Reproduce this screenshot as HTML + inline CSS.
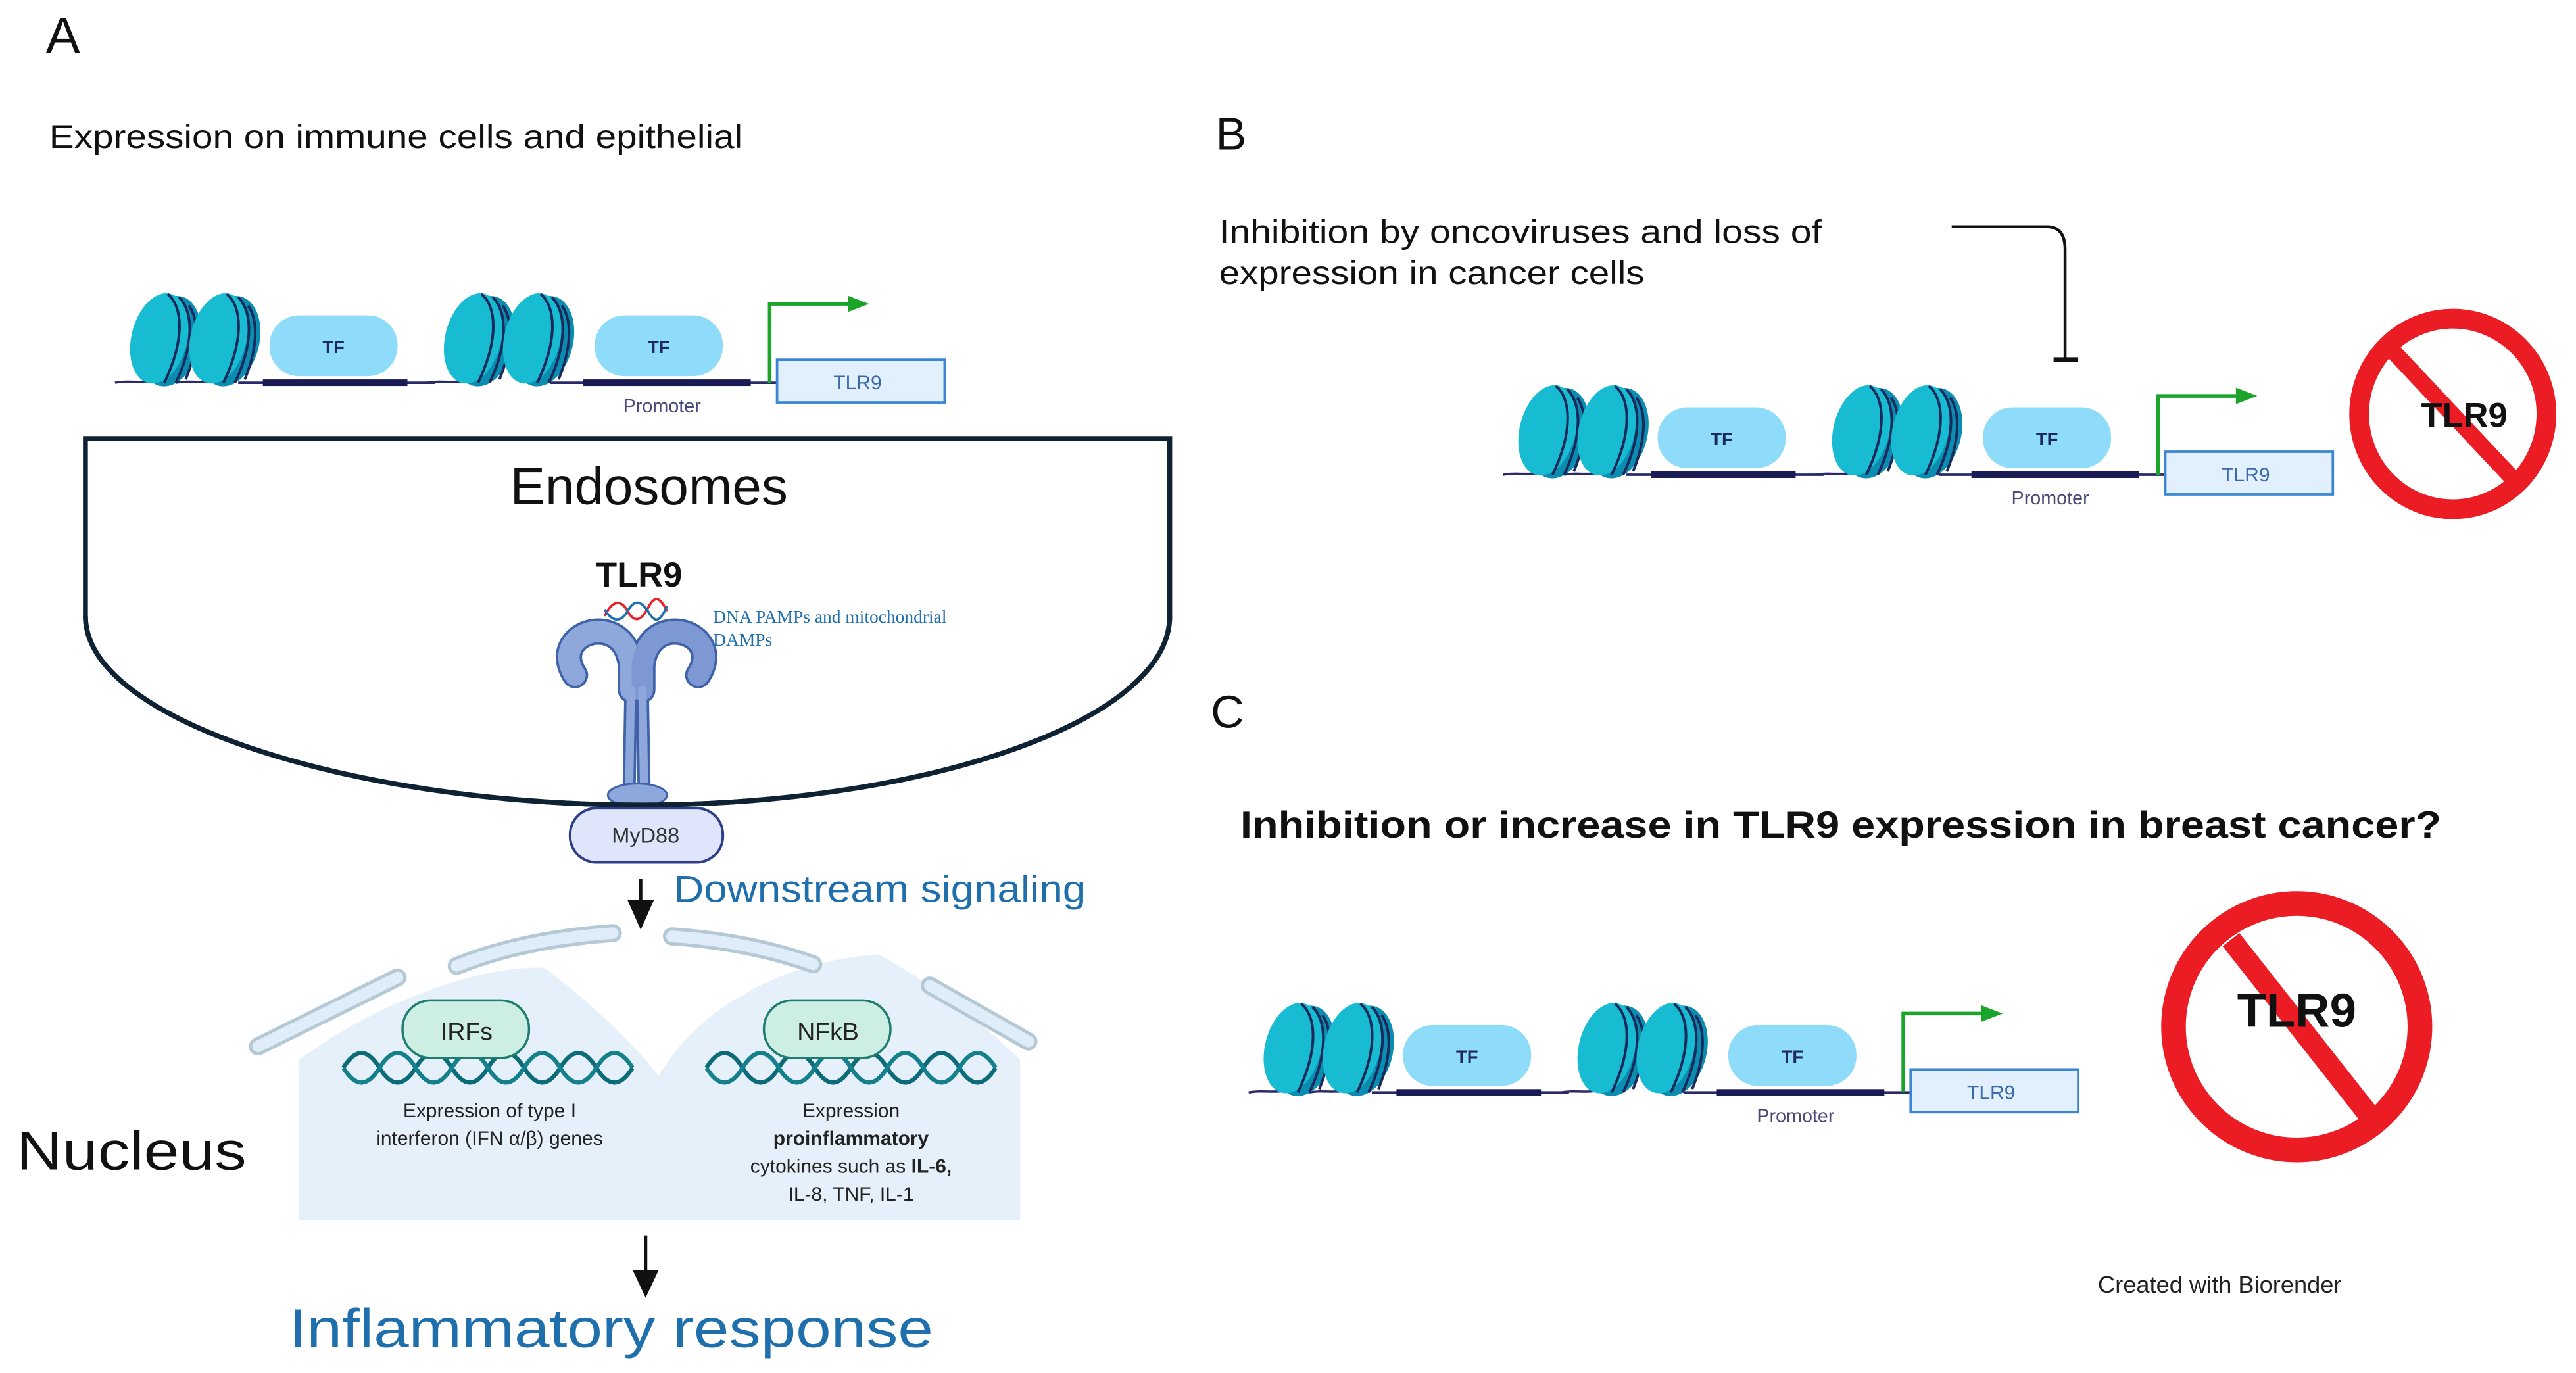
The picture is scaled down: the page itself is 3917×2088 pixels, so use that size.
<!DOCTYPE html>
<html><head><meta charset="utf-8"><style>
html,body{margin:0;padding:0;background:#fff;}
svg{display:block;}
text{font-family:"Liberation Sans",sans-serif;}
</style></head><body>
<svg width="3917" height="2088" viewBox="0 0 1568 835.8" preserveAspectRatio="none" xmlns="http://www.w3.org/2000/svg">
<defs>
<g id="nuc">
  <ellipse cx="7" cy="0" rx="18" ry="28" transform="rotate(14)" fill="#0a8db0"/>
  <ellipse cx="0" cy="0" rx="17" ry="28" transform="rotate(14)" fill="#17bcd2"/>
  <path d="M5 -27 C14 -20 16 0 3 27 M12 -25 C21 -16 21 4 10 27 M18 -20 C25 -10 23 8 16 25" stroke="#1b2a5a" stroke-width="1.6" fill="none"/>
</g>
<g id="gene">
  <path d="M-5 0 C5 -2 15 2 25 -4 M32 0 C42 -2 52 2 62 -4" stroke="#2a2a6a" stroke-width="1.4" fill="none"/>
  <use href="#nuc" x="22" y="-27"/>
  <use href="#nuc" x="58" y="-27"/>
  <line x1="70" y1="0" x2="190" y2="0" stroke="#2a2a6a" stroke-width="1.5"/>
  <rect x="85" y="-2" width="88" height="4" fill="#1a1a55"/>
  <rect x="89" y="-41" width="78" height="37" rx="18" fill="#8fdcfa"/>
  <text x="128" y="-18" font-size="11" font-weight="bold" fill="#1d2a5a" text-anchor="middle">TF</text>
  <path d="M185 0 C195 -2 205 2 215 -4" stroke="#2a2a6a" stroke-width="1.4" fill="none"/>
  <use href="#nuc" x="213" y="-27"/>
  <use href="#nuc" x="249" y="-27"/>
  <line x1="260" y1="0" x2="398" y2="0" stroke="#2a2a6a" stroke-width="1.5"/>
  <rect x="280" y="-2" width="102" height="4" fill="#1a1a55"/>
  <rect x="287" y="-41" width="78" height="37" rx="18" fill="#8fdcfa"/>
  <text x="326" y="-18" font-size="11" font-weight="bold" fill="#1d2a5a" text-anchor="middle">TF</text>
  <path d="M393.5 0 V-48 H443" stroke="#1aa52a" stroke-width="2.2" fill="none"/>
  <path d="M441 -53 L454 -48 L441 -43 Z" fill="#1aa52a"/>
  <rect x="398" y="-14" width="102" height="26" fill="#e2f0fd" stroke="#3a86d0" stroke-width="1.5"/>
  <text x="447" y="4" font-size="12" fill="#3a6aa8" text-anchor="middle">TLR9</text>
  <text x="328" y="18" font-size="11.5" fill="#4a4a78" text-anchor="middle">Promoter</text>
</g>
</defs>

<!-- Panel A -->
<text x="28" y="32" font-size="31" fill="#111">A</text>
<text x="30" y="90" font-size="20" fill="#111" textLength="422" lengthAdjust="spacingAndGlyphs">Expression on immune cells and epithelial</text>
<use href="#gene" x="75" y="233"/>

<!-- Endosome -->
<path d="M52 267 H712 V375 C712 440 560 490 390 490 C220 490 52 440 52 375 Z" fill="#fff" stroke="#0f2233" stroke-width="3"/>
<text x="395" y="307" font-size="32" fill="#111" text-anchor="middle">Endosomes</text>
<text x="389" y="357" font-size="21" font-weight="bold" fill="#111" text-anchor="middle">TLR9</text>
<path d="M368 375 C373 365 378 365 382 372 C386 379 390 379 395 369 C399 362 402 364 406 372" stroke="#e8222a" stroke-width="1.5" fill="none"/>
<path d="M368 371 C373 379 378 379 382 372 C386 365 390 365 395 373 C399 380 402 378 406 369" stroke="#1e6fb0" stroke-width="1.5" fill="none"/>
<text x="434" y="379" font-size="11" fill="#1f6fad" style="font-family:'Liberation Serif',serif">DNA PAMPs and mitochondrial</text>
<text x="434" y="393" font-size="11" fill="#1f6fad" style="font-family:'Liberation Serif',serif">DAMPs</text>
<!-- receptor -->
<g stroke-linecap="round" fill="none">
  <path d="M350 411 C333 385 380 370 384 405 L384 420" stroke="#3f62a8" stroke-width="16"/>
  <path d="M425 411 C442 385 395 370 391 405 L391 420" stroke="#3f62a8" stroke-width="16"/>
  <path d="M384 420 L383 478 M391 420 L392 478" stroke="#3f62a8" stroke-width="8"/>
  <path d="M350 411 C333 385 380 370 384 405 L384 420" stroke="#8fa8dc" stroke-width="13"/>
  <path d="M425 411 C442 385 395 370 391 405 L391 420" stroke="#7e98d3" stroke-width="13"/>
  <path d="M384 420 L383 478 M391 420 L392 478" stroke="#8fa8dc" stroke-width="5"/>
</g>
<ellipse cx="388" cy="484" rx="18" ry="7" fill="#8fa8dc" stroke="#3f62a8" stroke-width="1.2"/>
<path d="M52 375 C52 440 220 490 390 490 C560 490 712 440 712 375" fill="none" stroke="#0f2233" stroke-width="3"/>
<rect x="347" y="492" width="93" height="33" rx="16" fill="#dfe6fb" stroke="#2d3f8a" stroke-width="1.6"/>
<text x="393" y="513" font-size="13" fill="#333" text-anchor="middle">MyD88</text>

<line x1="390" y1="535" x2="390" y2="552" stroke="#111" stroke-width="2"/>
<path d="M382 548 L398 548 L390 566 Z" fill="#111"/>
<text x="410" y="549" font-size="23" fill="#1f6fad" textLength="251" lengthAdjust="spacingAndGlyphs">Downstream signaling</text>

<!-- Nucleus -->
<path d="M182 743 V645 C230 610 290 588 331 589 C360 610 390 640 401 655 C420 620 470 585 535 581 C570 600 600 625 621 645 V743 Z" fill="#e6f0fa"/>
<g stroke-linecap="round" fill="none">
  <path d="M157 637 L242 595" stroke="#b4c8d6" stroke-width="11"/>
  <path d="M157 637 L242 595" stroke="#deedf8" stroke-width="7"/>
  <path d="M278 588 C310 575 345 570 373 568" stroke="#b4c8d6" stroke-width="11"/>
  <path d="M278 588 C310 575 345 570 373 568" stroke="#deedf8" stroke-width="7"/>
  <path d="M409 570 C440 572 470 578 495 587" stroke="#b4c8d6" stroke-width="11"/>
  <path d="M409 570 C440 572 470 578 495 587" stroke="#deedf8" stroke-width="7"/>
  <path d="M566 600 L626 634" stroke="#b4c8d6" stroke-width="11"/>
  <path d="M566 600 L626 634" stroke="#deedf8" stroke-width="7"/>
</g>
<g fill="none" stroke-width="2.6">
  <path d="M209 650 q11 -18 22 0 t22 0 t22 0 t22 0 t22 0 t22 0 t22 0 t22 0" stroke="#0c6b78"/>
  <path d="M209 650 q11 18 22 0 t22 0 t22 0 t22 0 t22 0 t22 0 t22 0 t22 0" stroke="#14808c"/>
  <path d="M430 650 q11 -18 22 0 t22 0 t22 0 t22 0 t22 0 t22 0 t22 0 t22 0" stroke="#0c6b78"/>
  <path d="M430 650 q11 18 22 0 t22 0 t22 0 t22 0 t22 0 t22 0 t22 0 t22 0" stroke="#14808c"/>
</g>
<rect x="245" y="609" width="77" height="35" rx="17" fill="#cdeee3" stroke="#1f7d70" stroke-width="1.4"/>
<text x="284" y="633" font-size="15" fill="#222" text-anchor="middle">IRFs</text>
<rect x="465" y="609" width="77" height="35" rx="17" fill="#cdeee3" stroke="#1f7d70" stroke-width="1.4"/>
<text x="504" y="633" font-size="15" fill="#222" text-anchor="middle">NFkB</text>
<g font-size="12" fill="#222" text-anchor="middle">
  <text x="298" y="680">Expression of type I</text>
  <text x="298" y="697">interferon (IFN α/β) genes</text>
  <text x="518" y="680">Expression</text>
  <text x="518" y="697" font-weight="bold">proinflammatory</text>
  <text x="518" y="714">cytokines such as <tspan font-weight="bold">IL-6,</tspan></text>
  <text x="518" y="731">IL-8, TNF, IL-1</text>
</g>
<text x="10" y="712" font-size="33" fill="#111" textLength="140" lengthAdjust="spacingAndGlyphs">Nucleus</text>

<line x1="393" y1="752" x2="393" y2="776" stroke="#111" stroke-width="2"/>
<path d="M385 773 L401 773 L393 790 Z" fill="#111"/>
<text x="372" y="820" font-size="33" fill="#1f6fad" text-anchor="middle" textLength="392" lengthAdjust="spacingAndGlyphs">Inflammatory response</text>

<!-- Panel B -->
<text x="740" y="91" font-size="28" fill="#111">B</text>
<text x="742" y="148" font-size="20" fill="#111" textLength="367" lengthAdjust="spacingAndGlyphs">Inhibition by oncoviruses and loss of</text>
<text x="742" y="173" font-size="20" fill="#111" textLength="259" lengthAdjust="spacingAndGlyphs">expression in cancer cells</text>
<path d="M1188 138 H1246 Q1257 138 1257 152 V219" stroke="#111" stroke-width="1.8" fill="none"/>
<line x1="1250" y1="219" x2="1265" y2="219" stroke="#111" stroke-width="3"/>
<use href="#gene" x="920" y="289"/>
<ellipse cx="1493" cy="252" rx="57" ry="58" fill="none" stroke="#ec1c24" stroke-width="12"/>
<line x1="1455" y1="212" x2="1532" y2="294" stroke="#ec1c24" stroke-width="10"/>
<text x="1500" y="260" font-size="21" font-weight="bold" fill="#111" text-anchor="middle">TLR9</text>

<!-- Panel C -->
<text x="737" y="443" font-size="28" fill="#111">C</text>
<text x="755" y="510" font-size="23" font-weight="bold" fill="#111" textLength="731" lengthAdjust="spacingAndGlyphs">Inhibition or increase in TLR9 expression in breast cancer?</text>
<use href="#gene" x="765" y="665"/>
<circle cx="1398" cy="625" r="75" fill="none" stroke="#ec1c24" stroke-width="15"/>
<line x1="1358" y1="572" x2="1443" y2="680" stroke="#ec1c24" stroke-width="13"/>
<text x="1398" y="625" font-size="29" font-weight="bold" fill="#111" text-anchor="middle">TLR9</text>
<text x="1277" y="787" font-size="14.5" fill="#222">Created with Biorender</text>
</svg>
</body></html>
